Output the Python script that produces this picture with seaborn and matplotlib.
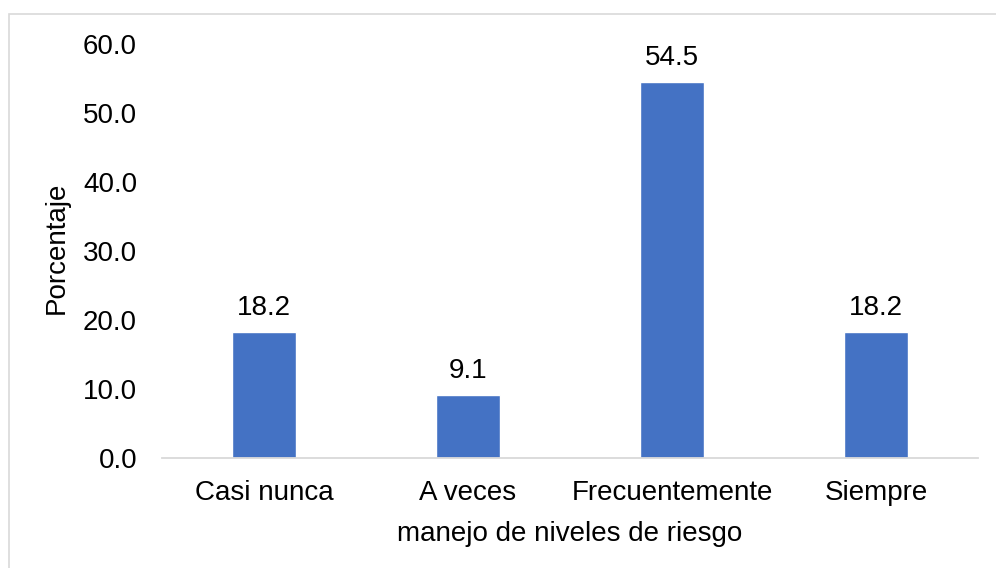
import matplotlib
matplotlib.use("Agg")
import matplotlib.pyplot as plt
import seaborn as sns
import pandas as pd
from matplotlib.patches import Rectangle

categorias = ["Casi nunca", "A veces", "Frecuentemente", "Siempre"]
porcentajes = [18.2, 9.1, 54.5, 18.2]
yticks = [0, 10, 20, 30, 40, 50, 60]

sns.set_theme(style="white")
plt.rcParams["font.family"] = ["Liberation Sans", "DejaVu Sans"]
plt.rcParams["text.color"] = "black"
plt.rcParams["axes.labelcolor"] = "black"
plt.rcParams["xtick.color"] = "black"
plt.rcParams["ytick.color"] = "black"

FS = 20

df = pd.DataFrame({"cat": categorias, "pct": porcentajes})

fig = plt.figure(figsize=(9.96, 5.68), dpi=100)
ax = fig.add_axes([0.1627, 0.1937, 0.982 - 0.1627, 0.9225 - 0.1937])

sns.barplot(data=df, x="cat", y="pct", color="#4472C4", saturation=1,
            width=0.31, ax=ax)

for i, v in enumerate(porcentajes):
    ax.text(i, v + 1.65, f"{v:.1f}", ha="center", va="bottom", fontsize=FS,
            color="black")

ax.set_ylim(0, 60)
ax.set_yticks(yticks)
ax.set_yticklabels([f"{t:.1f}" for t in yticks], fontsize=FS)
ax.tick_params(axis="x", labelsize=FS, length=0, pad=16)
ax.tick_params(axis="y", length=0, pad=18)
ax.set_xlim(-0.5, 3.5)

for s in ["top", "right", "left"]:
    ax.spines[s].set_visible(False)
ax.spines["bottom"].set_color("#D9D9D9")
ax.spines["bottom"].set_linewidth(1.3)

ax.set_xlabel("manejo de niveles de riesgo", fontsize=FS, labelpad=11)
ax.set_ylabel("Porcentaje", fontsize=FS)
ax.yaxis.set_label_coords(-0.113, 0.508)

fig.patches.append(Rectangle((9 / 996, -0.05), 1.2, 1 - 14 / 568 + 0.05,
                             transform=fig.transFigure, fill=False,
                             edgecolor="#D9D9D9", linewidth=1.2))

fig.savefig("out.png", dpi=100)
